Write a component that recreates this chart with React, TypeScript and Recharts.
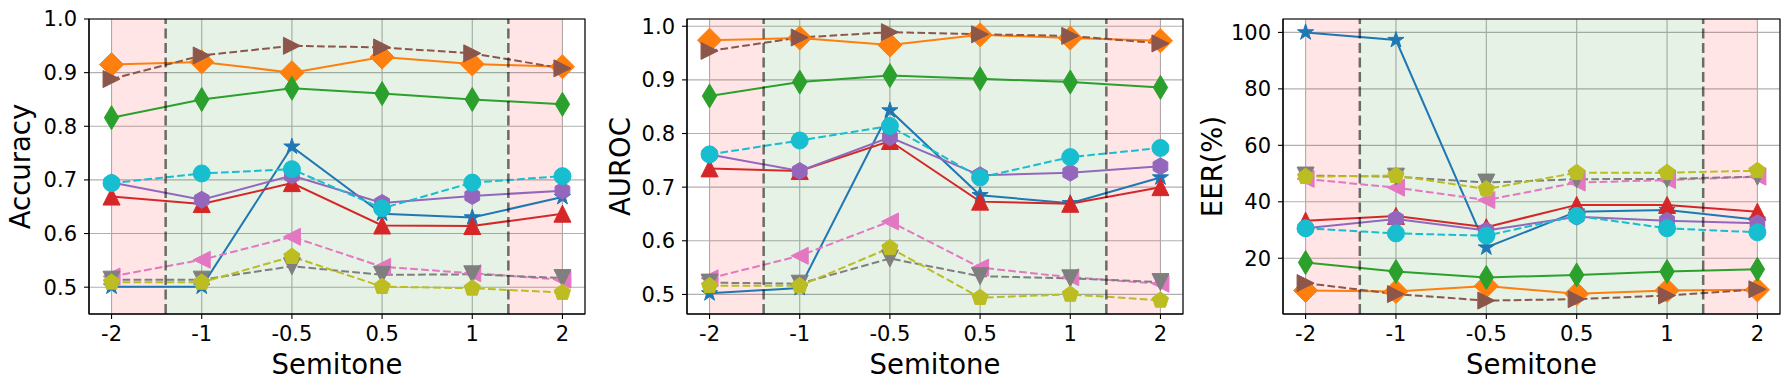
import React from 'react';
import { LineChart, Line, XAxis, YAxis, CartesianGrid, ReferenceArea, ReferenceLine } from 'recharts';

// x categories (pitch shift in semitones)
const semitones = ['-2', '-1', '-0.5', '0.5', '1', '2'];

// tab10 colours, one per series
const seriesColors = ['#1f77b4', '#ff7f0e', '#2ca02c', '#d62728', '#9467bd', '#8c564b', '#e377c2', '#7f7f7f', '#bcbd22', '#17becf'];
const seriesMarkers = ['star', 'D', 'd', '^', 'h', '>', '<', 'v', 'p', 'o'];
const seriesDashed = [false, false, false, false, false, true, true, true, true, true];

// one row per series, one value per semitone
const accuracy = [
  [0.501, 0.501, 0.762, 0.637, 0.63, 0.668],
  [0.915, 0.92, 0.9, 0.929, 0.916, 0.911],
  [0.816, 0.85, 0.871, 0.861, 0.85, 0.841],
  [0.669, 0.655, 0.694, 0.615, 0.614, 0.637],
  [0.695, 0.663, 0.708, 0.657, 0.67, 0.68],
  [0.888, 0.932, 0.95, 0.947, 0.936, 0.908],
  [0.52, 0.551, 0.594, 0.538, 0.526, 0.514],
  [0.514, 0.514, 0.539, 0.523, 0.524, 0.517],
  [0.509, 0.509, 0.557, 0.501, 0.498, 0.49],
  [0.694, 0.712, 0.72, 0.647, 0.695, 0.707],
];

const auroc = [
  [0.502, 0.512, 0.843, 0.685, 0.67, 0.718],
  [0.974, 0.978, 0.965, 0.984, 0.978, 0.973],
  [0.87, 0.896, 0.908, 0.902, 0.896, 0.886],
  [0.735, 0.73, 0.786, 0.673, 0.669, 0.7],
  [0.761, 0.73, 0.793, 0.722, 0.727, 0.739],
  [0.954, 0.979, 0.989, 0.985, 0.982, 0.968],
  [0.53, 0.572, 0.636, 0.55, 0.532, 0.52],
  [0.522, 0.52, 0.567, 0.534, 0.53, 0.523],
  [0.516, 0.516, 0.587, 0.494, 0.5, 0.489],
  [0.761, 0.787, 0.814, 0.718, 0.756, 0.773],
];

const eer = [
  [100, 97.3, 23.8, 36.5, 37.1, 33.6],
  [8.6, 8.2, 10.2, 7.4, 8.6, 8.8],
  [18.5, 15.3, 13.2, 14.1, 15.3, 16.1],
  [33.3, 35.0, 31.0, 38.9, 38.9, 36.5],
  [30.6, 33.9, 29.8, 34.7, 33.3, 32.4],
  [11.2, 7.3, 5.0, 5.5, 6.8, 9.0],
  [48.1, 45.0, 40.6, 46.8, 47.7, 48.9],
  [49.3, 48.9, 46.8, 48.0, 48.1, 48.9],
  [48.9, 49.3, 44.5, 50.3, 50.3, 51.0],
  [30.6, 28.8, 28.0, 35.0, 30.6, 29.2],
];

const accuracyTicks = [0.5, 0.6, 0.7, 0.8, 0.9, 1.0];
const aurocTicks = [0.5, 0.6, 0.7, 0.8, 0.9, 1.0];
const eerTicks = [20, 40, 60, 80, 100];

const FONT = 'DejaVu Sans';
const R = 8.5;

const polygon = (cx: number, cy: number, n: number, r: number, inner?: number) => {
  const pts: string[] = [];
  const count = inner ? n * 2 : n;
  for (let i = 0; i < count; i++) {
    const rad = inner && i % 2 === 1 ? r * inner : r;
    const a = -Math.PI / 2 + (i * 2 * Math.PI) / count;
    pts.push(`${cx + rad * Math.cos(a)},${cy + rad * Math.sin(a)}`);
  }
  return pts.join(' ');
};

const Marker = ({ cx, cy, shape, color }: any) => {
  if (cx == null || cy == null) return null;
  const common = { fill: color, stroke: color, strokeWidth: 1 };
  const hd = R * 1.414;
  switch (shape) {
    case 'o':
      return <circle cx={cx} cy={cy} r={R} {...common} />;
    case 'star':
      return <polygon points={polygon(cx, cy, 5, R, 0.382)} {...common} />;
    case 'p':
      return <polygon points={polygon(cx, cy, 5, R)} {...common} />;
    case 'h':
      return <polygon points={polygon(cx, cy, 6, R)} {...common} />;
    case 'D':
      return <polygon points={`${cx},${cy - hd} ${cx + hd},${cy} ${cx},${cy + hd} ${cx - hd},${cy}`} {...common} />;
    case 'd':
      return <polygon points={`${cx},${cy - hd} ${cx + hd * 0.6},${cy} ${cx},${cy + hd} ${cx - hd * 0.6},${cy}`} {...common} />;
    case '^':
      return <polygon points={`${cx},${cy - R} ${cx + R},${cy + R} ${cx - R},${cy + R}`} {...common} />;
    case 'v':
      return <polygon points={`${cx},${cy + R} ${cx + R},${cy - R} ${cx - R},${cy - R}`} {...common} />;
    case '>':
      return <polygon points={`${cx + R},${cy} ${cx - R},${cy - R} ${cx - R},${cy + R}`} {...common} />;
    case '<':
      return <polygon points={`${cx - R},${cy} ${cx + R},${cy - R} ${cx + R},${cy + R}`} {...common} />;
    default:
      return null;
  }
};

interface PanelProps {
  values: number[][];
  yDomain: [number, number];
  yTicks: number[];
  yLabel: string;
  decimals: number;
  left: number;
  yAxisWidth: number;
  rightMargin: number;
  labelOffset: number;
}

const Panel: React.FC<PanelProps> = ({ values, yDomain, yTicks, yLabel, decimals, left, yAxisWidth, rightMargin, labelOffset }) => {
  const data = semitones.map((s, i) => {
    const row: any = { idx: i, name: s };
    values.forEach((v, k) => {
      row[`s${k}`] = v[i];
    });
    return row;
  });
  const tickStyle = { fill: '#000', fontSize: 21, fontFamily: FONT };

  return (
    <div style={{ position: 'absolute', left, top: 0 }}>
      <LineChart width={600} height={390} data={data} margin={{ top: 19, right: rightMargin, left: 0, bottom: 0 }}>
        <ReferenceArea x1={0} x2={0.6} y1={yDomain[0]} y2={yDomain[1]} fill="#ff0000" fillOpacity={0.1} stroke="none" />
        <ReferenceArea x1={0.6} x2={4.4} y1={yDomain[0]} y2={yDomain[1]} fill="#008000" fillOpacity={0.1} stroke="none" />
        <ReferenceArea x1={4.4} x2={5} y1={yDomain[0]} y2={yDomain[1]} fill="#ff0000" fillOpacity={0.1} stroke="none" />
        <CartesianGrid stroke="#b0b0b0" strokeWidth={1.1} />
        <XAxis
          dataKey="idx"
          type="number"
          domain={[-0.25, 5.25]}
          ticks={[0, 1, 2, 3, 4, 5]}
          tickFormatter={(i: number) => semitones[i]}
          height={76}
          tick={tickStyle}
          tickSize={5}
          tickMargin={7}
          axisLine={{ stroke: '#000', strokeWidth: 1.1 }}
          tickLine={{ stroke: '#000', strokeWidth: 1.1 }}
          interval={0}
          label={{ value: 'Semitone', position: 'insideBottom', offset: 16, style: { fill: '#000', fontSize: 27.5, fontFamily: FONT } }}
        />
        <YAxis
          type="number"
          domain={yDomain}
          ticks={yTicks}
          allowDataOverflow
          width={yAxisWidth}
          tick={tickStyle}
          tickSize={5}
          tickMargin={7}
          tickFormatter={(v: number) => v.toFixed(decimals)}
          axisLine={{ stroke: '#000', strokeWidth: 1.1 }}
          tickLine={{ stroke: '#000', strokeWidth: 1.1 }}
          interval={0}
          label={{ value: yLabel, angle: -90, position: 'insideLeft', offset: labelOffset, style: { fill: '#000', fontSize: 27.5, fontFamily: FONT, textAnchor: 'middle' } }}
        />
        {values.map((_, k) => (
          <Line
            key={k}
            type="linear"
            dataKey={`s${k}`}
            stroke={seriesColors[k]}
            strokeWidth={2}
            strokeDasharray={seriesDashed[k] ? '7.7 3.3' : undefined}
            dot={(p: any) => <Marker key={`m${k}-${p.index}`} cx={p.cx} cy={p.cy} shape={seriesMarkers[k]} color={seriesColors[k]} />}
            activeDot={false}
            isAnimationActive={false}
          />
        ))}
        <ReferenceLine x={0.6} stroke="#000" strokeOpacity={0.55} strokeWidth={2.5} strokeDasharray="10 4.5" />
        <ReferenceLine x={4.4} stroke="#000" strokeOpacity={0.55} strokeWidth={2.5} strokeDasharray="10 4.5" />
        <ReferenceArea x1={-0.25} x2={5.25} y1={yDomain[0]} y2={yDomain[1]} fill="none" stroke="#000" strokeWidth={1.1} />
      </LineChart>
    </div>
  );
};

export default function App() {
  return (
    <div style={{ position: 'absolute', left: 0, top: 0, width: 1790, height: 390, background: '#fff' }}>
      <Panel values={accuracy} yDomain={[0.45, 1.0]} yTicks={accuracyTicks} yLabel="Accuracy" decimals={1} left={0} yAxisWidth={89} rightMargin={15} labelOffset={20} />
      <Panel values={auroc} yDomain={[0.4635, 1.0135]} yTicks={aurocTicks} yLabel="AUROC" decimals={1} left={600} yAxisWidth={87} rightMargin={17} labelOffset={20} />
      <Panel values={eer} yDomain={[0.25, 104.75]} yTicks={eerTicks} yLabel="EER(%)" decimals={0} left={1190} yAxisWidth={93} rightMargin={10} labelOffset={22} />
    </div>
  );
}
